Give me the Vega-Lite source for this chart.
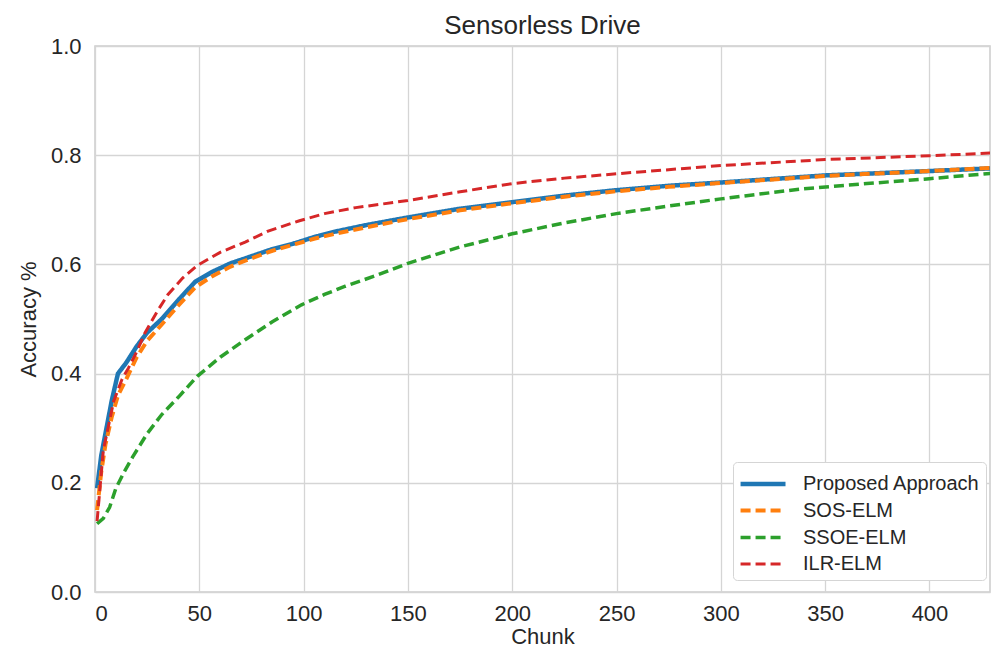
{
  "$schema": "https://vega.github.io/schema/vega-lite/v6.json",
  "autosize": {"type": "none"},
  "width": 895,
  "height": 546,
  "padding": {"left": 95, "top": 46, "right": 3, "bottom": 65},
  "background": "white",
  "config": {
    "font": "Liberation Sans",
    "view": {"stroke": "#cccccc", "strokeWidth": 1.5},
    "axis": {
      "domain": false,
      "ticks": false,
      "grid": true,
      "gridColor": "#d5d5d5",
      "gridWidth": 1.3,
      "labelFont": "Liberation Sans",
      "labelFontSize": 22,
      "labelColor": "#262626",
      "titleFont": "Liberation Sans",
      "titleFontSize": 22,
      "titleFontWeight": "normal",
      "titleColor": "#262626"
    }
  },
  "title": {
    "text": "Sensorless Drive",
    "fontSize": 26,
    "fontWeight": "normal",
    "color": "#262626",
    "font": "Liberation Sans",
    "anchor": "middle",
    "offset": 0,
    "dy": 4
  },
  "data": {
    "values": [
      {"s": "Proposed Approach", "x": 1, "y": 0.19},
      {"s": "Proposed Approach", "x": 3, "y": 0.25},
      {"s": "Proposed Approach", "x": 5, "y": 0.29},
      {"s": "Proposed Approach", "x": 8, "y": 0.35},
      {"s": "Proposed Approach", "x": 11, "y": 0.4},
      {"s": "Proposed Approach", "x": 15, "y": 0.42},
      {"s": "Proposed Approach", "x": 20, "y": 0.45},
      {"s": "Proposed Approach", "x": 25, "y": 0.475},
      {"s": "Proposed Approach", "x": 32, "y": 0.5},
      {"s": "Proposed Approach", "x": 40, "y": 0.535},
      {"s": "Proposed Approach", "x": 48, "y": 0.568},
      {"s": "Proposed Approach", "x": 56, "y": 0.586},
      {"s": "Proposed Approach", "x": 65, "y": 0.602},
      {"s": "Proposed Approach", "x": 72, "y": 0.611},
      {"s": "Proposed Approach", "x": 85, "y": 0.628},
      {"s": "Proposed Approach", "x": 96, "y": 0.639},
      {"s": "Proposed Approach", "x": 105, "y": 0.65},
      {"s": "Proposed Approach", "x": 115, "y": 0.66},
      {"s": "Proposed Approach", "x": 130, "y": 0.672},
      {"s": "Proposed Approach", "x": 150, "y": 0.686},
      {"s": "Proposed Approach", "x": 175, "y": 0.702},
      {"s": "Proposed Approach", "x": 200, "y": 0.714},
      {"s": "Proposed Approach", "x": 225, "y": 0.726},
      {"s": "Proposed Approach", "x": 250, "y": 0.736},
      {"s": "Proposed Approach", "x": 275, "y": 0.744},
      {"s": "Proposed Approach", "x": 300, "y": 0.75},
      {"s": "Proposed Approach", "x": 350, "y": 0.763},
      {"s": "Proposed Approach", "x": 400, "y": 0.771},
      {"s": "Proposed Approach", "x": 430, "y": 0.776},

      {"s": "SOS-ELM", "x": 1, "y": 0.15},
      {"s": "SOS-ELM", "x": 3, "y": 0.22},
      {"s": "SOS-ELM", "x": 5, "y": 0.27},
      {"s": "SOS-ELM", "x": 8, "y": 0.32},
      {"s": "SOS-ELM", "x": 11, "y": 0.36},
      {"s": "SOS-ELM", "x": 15, "y": 0.39},
      {"s": "SOS-ELM", "x": 20, "y": 0.43},
      {"s": "SOS-ELM", "x": 25, "y": 0.46},
      {"s": "SOS-ELM", "x": 32, "y": 0.49},
      {"s": "SOS-ELM", "x": 40, "y": 0.525},
      {"s": "SOS-ELM", "x": 48, "y": 0.558},
      {"s": "SOS-ELM", "x": 56, "y": 0.578},
      {"s": "SOS-ELM", "x": 65, "y": 0.596},
      {"s": "SOS-ELM", "x": 72, "y": 0.607},
      {"s": "SOS-ELM", "x": 85, "y": 0.625},
      {"s": "SOS-ELM", "x": 96, "y": 0.637},
      {"s": "SOS-ELM", "x": 105, "y": 0.647},
      {"s": "SOS-ELM", "x": 115, "y": 0.656},
      {"s": "SOS-ELM", "x": 130, "y": 0.668},
      {"s": "SOS-ELM", "x": 150, "y": 0.683},
      {"s": "SOS-ELM", "x": 175, "y": 0.699},
      {"s": "SOS-ELM", "x": 200, "y": 0.712},
      {"s": "SOS-ELM", "x": 225, "y": 0.724},
      {"s": "SOS-ELM", "x": 250, "y": 0.734},
      {"s": "SOS-ELM", "x": 275, "y": 0.742},
      {"s": "SOS-ELM", "x": 300, "y": 0.749},
      {"s": "SOS-ELM", "x": 350, "y": 0.762},
      {"s": "SOS-ELM", "x": 400, "y": 0.771},
      {"s": "SOS-ELM", "x": 430, "y": 0.777},

      {"s": "SSOE-ELM", "x": 1, "y": 0.125},
      {"s": "SSOE-ELM", "x": 4, "y": 0.135},
      {"s": "SSOE-ELM", "x": 7, "y": 0.155},
      {"s": "SSOE-ELM", "x": 10, "y": 0.19},
      {"s": "SSOE-ELM", "x": 14, "y": 0.22},
      {"s": "SSOE-ELM", "x": 18, "y": 0.247},
      {"s": "SSOE-ELM", "x": 25, "y": 0.29},
      {"s": "SSOE-ELM", "x": 32, "y": 0.325},
      {"s": "SSOE-ELM", "x": 40, "y": 0.357},
      {"s": "SSOE-ELM", "x": 49, "y": 0.395},
      {"s": "SSOE-ELM", "x": 60, "y": 0.43},
      {"s": "SSOE-ELM", "x": 72, "y": 0.462},
      {"s": "SSOE-ELM", "x": 85, "y": 0.495},
      {"s": "SSOE-ELM", "x": 99, "y": 0.526},
      {"s": "SSOE-ELM", "x": 110, "y": 0.545},
      {"s": "SSOE-ELM", "x": 120, "y": 0.56},
      {"s": "SSOE-ELM", "x": 135, "y": 0.58},
      {"s": "SSOE-ELM", "x": 150, "y": 0.602},
      {"s": "SSOE-ELM", "x": 175, "y": 0.632},
      {"s": "SSOE-ELM", "x": 200, "y": 0.656},
      {"s": "SSOE-ELM", "x": 225, "y": 0.676},
      {"s": "SSOE-ELM", "x": 250, "y": 0.693},
      {"s": "SSOE-ELM", "x": 275, "y": 0.707},
      {"s": "SSOE-ELM", "x": 300, "y": 0.72},
      {"s": "SSOE-ELM", "x": 338, "y": 0.738},
      {"s": "SSOE-ELM", "x": 370, "y": 0.748},
      {"s": "SSOE-ELM", "x": 400, "y": 0.757},
      {"s": "SSOE-ELM", "x": 430, "y": 0.767},

      {"s": "ILR-ELM", "x": 1, "y": 0.13},
      {"s": "ILR-ELM", "x": 4, "y": 0.26},
      {"s": "ILR-ELM", "x": 9, "y": 0.35},
      {"s": "ILR-ELM", "x": 13, "y": 0.39},
      {"s": "ILR-ELM", "x": 16, "y": 0.41},
      {"s": "ILR-ELM", "x": 20, "y": 0.44},
      {"s": "ILR-ELM", "x": 24, "y": 0.475},
      {"s": "ILR-ELM", "x": 30, "y": 0.515},
      {"s": "ILR-ELM", "x": 35, "y": 0.545},
      {"s": "ILR-ELM", "x": 42, "y": 0.575},
      {"s": "ILR-ELM", "x": 49, "y": 0.598},
      {"s": "ILR-ELM", "x": 60, "y": 0.622},
      {"s": "ILR-ELM", "x": 72, "y": 0.641},
      {"s": "ILR-ELM", "x": 83, "y": 0.661},
      {"s": "ILR-ELM", "x": 98, "y": 0.68},
      {"s": "ILR-ELM", "x": 110, "y": 0.693},
      {"s": "ILR-ELM", "x": 125, "y": 0.704},
      {"s": "ILR-ELM", "x": 150, "y": 0.717},
      {"s": "ILR-ELM", "x": 175, "y": 0.733},
      {"s": "ILR-ELM", "x": 200, "y": 0.748},
      {"s": "ILR-ELM", "x": 225, "y": 0.758},
      {"s": "ILR-ELM", "x": 250, "y": 0.766},
      {"s": "ILR-ELM", "x": 300, "y": 0.781},
      {"s": "ILR-ELM", "x": 350, "y": 0.792},
      {"s": "ILR-ELM", "x": 400, "y": 0.799},
      {"s": "ILR-ELM", "x": 430, "y": 0.804}
    ]
  },
  "mark": {"type": "line", "clip": true, "strokeCap": "butt"},
  "encoding": {
    "x": {
      "field": "x",
      "type": "quantitative",
      "title": "Chunk",
      "scale": {"domain": [0, 429], "nice": false, "zero": false},
      "axis": {"values": [0, 50, 100, 150, 200, 250, 300, 350, 400], "labelPadding": 11, "titlePadding": 2}
    },
    "y": {
      "field": "y",
      "type": "quantitative",
      "title": "Accuracy %",
      "scale": {"domain": [0, 1], "nice": false},
      "axis": {"values": [0, 0.2, 0.4, 0.6, 0.8, 1.0], "format": ".1f", "labelPadding": 14, "titlePadding": 10}
    },
    "color": {
      "field": "s",
      "type": "nominal",
      "title": null,
      "sort": ["Proposed Approach", "SOS-ELM", "SSOE-ELM", "ILR-ELM"],
      "scale": {
        "domain": ["Proposed Approach", "SOS-ELM", "SSOE-ELM", "ILR-ELM"],
        "range": ["#1f77b4", "#ff7f0e", "#2ca02c", "#d62728"]
      },
      "legend": {
        "orient": "none",
        "legendX": 638,
        "legendY": 416,
        "symbolType": "M-1.07,0H2.26",
        "symbolSize": 729,
        "labelFontSize": 20,
        "labelLimit": 400,
        "labelFont": "Liberation Sans",
        "labelColor": "#262626",
        "strokeColor": "#d5d5d5",
        "fillColor": "white",
        "padding": 6,
        "cornerRadius": 4,
        "rowPadding": 1,
        "labelOffset": 32
      }
    },
    "strokeDash": {
      "field": "s",
      "type": "nominal",
      "sort": ["Proposed Approach", "SOS-ELM", "SSOE-ELM", "ILR-ELM"],
      "scale": {
        "domain": ["Proposed Approach", "SOS-ELM", "SSOE-ELM", "ILR-ELM"],
        "range": [[1, 0], [10, 5], [10, 5], [10, 5]]
      },
      "legend": null
    },
    "strokeWidth": {
      "field": "s",
      "type": "nominal",
      "sort": ["Proposed Approach", "SOS-ELM", "SSOE-ELM", "ILR-ELM"],
      "scale": {
        "domain": ["Proposed Approach", "SOS-ELM", "SSOE-ELM", "ILR-ELM"],
        "range": [4.5, 3, 3, 3]
      },
      "legend": null
    },
    "order": {"field": "x", "type": "quantitative"}
  }
}
